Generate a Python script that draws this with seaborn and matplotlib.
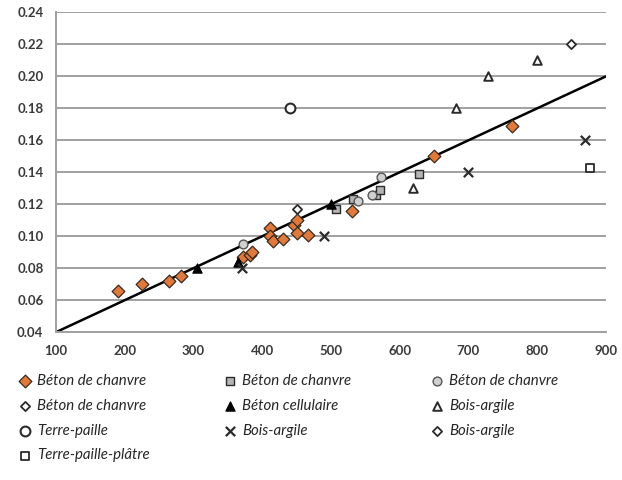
import matplotlib
matplotlib.use("Agg")
import matplotlib.pyplot as plt
import seaborn as sns
import pandas as pd

# ---- data ----
chanvre1_x = [190, 225, 265, 282, 372, 382, 385, 411, 412, 416, 431, 446, 451, 450, 467, 531, 650, 763]
chanvre1_y = [0.066, 0.070, 0.072, 0.075, 0.087, 0.088, 0.090, 0.105, 0.100, 0.097, 0.098, 0.107, 0.110, 0.102, 0.101, 0.116, 0.150, 0.169]
chanvre2_x = [507, 532, 565, 572, 628]
chanvre2_y = [0.117, 0.123, 0.126, 0.129, 0.139]
chanvre3_x = [372, 540, 560, 573]
chanvre3_y = [0.095, 0.122, 0.126, 0.137]
chanvre4_x = [450]
chanvre4_y = [0.117]
cellulaire_x = [305, 365, 500]
cellulaire_y = [0.080, 0.084, 0.120]
boisarg1_x = [620, 682, 728, 800]
boisarg1_y = [0.130, 0.180, 0.200, 0.210]
terrepaille_x = [440]
terrepaille_y = [0.180]
boisarg2_x = [370, 490, 700, 870]
boisarg2_y = [0.080, 0.100, 0.140, 0.160]
boisarg3_x = [850]
boisarg3_y = [0.220]
tpp_x = [877]
tpp_y = [0.143]
fit_x = [100, 900]
fit_y = [0.04, 0.20]

labels = ["Béton de chanvre", "Béton de chanvre", "Béton de chanvre", "Béton de chanvre",
          "Béton cellulaire", "Bois-argile", "Terre-paille", "Bois-argile", "Bois-argile",
          "Terre-paille-plâtre"]
x_ticks = [100, 200, 300, 400, 500, 600, 700, 800, 900]
y_ticks = [0.04, 0.06, 0.08, 0.10, 0.12, 0.14, 0.16, 0.18, 0.20, 0.22, 0.24]

sns.set_theme(style="white")
plt.rcParams["font.family"] = ["Lato", "DejaVu Sans"]

fig = plt.figure(figsize=(6.22, 4.80), dpi=100)
ax = fig.add_axes([0.090, 0.308, 0.884, 0.666])

for yv in y_ticks:
    ax.axhline(yv, color="#a0a0a0", lw=1.4, zorder=0)

sns.lineplot(x=fit_x, y=fit_y, ax=ax, color="black", lw=1.8, zorder=2)

dk = "#2b2b2b"
series = [
    (chanvre1_x, chanvre1_y, dict(marker="D", s=42, color="#e07a3c", edgecolor="#3a2a20", linewidth=0.9)),
    (chanvre2_x, chanvre2_y, dict(marker="s", s=40, color="#b5b5b5", edgecolor=dk, linewidth=1.0)),
    (chanvre3_x, chanvre3_y, dict(marker="o", s=40, color="#d0d0d0", edgecolor="#555555", linewidth=1.0)),
    (chanvre4_x, chanvre4_y, dict(marker="D", s=22, color="white", edgecolor=dk, linewidth=1.3)),
    (cellulaire_x, cellulaire_y, dict(marker="^", s=45, color="black", edgecolor="black", linewidth=0.8)),
    (boisarg1_x, boisarg1_y, dict(marker="^", s=38, color="white", edgecolor=dk, linewidth=1.4)),
    (terrepaille_x, terrepaille_y, dict(marker="o", s=50, color="white", edgecolor=dk, linewidth=1.5)),
    (boisarg2_x, boisarg2_y, dict(marker="x", s=45, color=dk, linewidth=1.6)),
    (boisarg3_x, boisarg3_y, dict(marker="D", s=22, color="white", edgecolor=dk, linewidth=1.3)),
    (tpp_x, tpp_y, dict(marker="s", s=40, color="white", edgecolor=dk, linewidth=1.3)),
]
for (xs, ys, kw), lab in zip(series, labels):
    sns.scatterplot(x=xs, y=ys, ax=ax, zorder=3, label=lab, **kw)
handles, labs = ax.get_legend_handles_labels()
ax.get_legend().remove()

ax.set_xlim(100, 900)
ax.set_ylim(0.04, 0.24)
ax.set_xticks(x_ticks)
ax.set_yticks(y_ticks)
ax.set_xticklabels([str(v) for v in x_ticks])
ax.set_yticklabels([f"{v:.2f}" for v in y_ticks])
for s in ["top", "right"]:
    ax.spines[s].set_visible(False)
for s in ["left", "bottom"]:
    ax.spines[s].set_color("#a0a0a0")
    ax.spines[s].set_linewidth(1.4)
ax.tick_params(axis="both", direction="out", length=4, width=1.2, color="#a0a0a0",
               labelsize=9.5, labelcolor="#3a3a3a", pad=5)
for t in ax.get_xticklabels() + ax.get_yticklabels():
    t.set_fontweight("bold")
ax.set_xlabel("")
ax.set_ylabel("")
ax.set_facecolor("white")

# legend: three columns placed separately
cols = [[0, 3, 6, 9], [1, 4, 7], [2, 5, 8]]
xpos = [0.020, 0.350, 0.682]
for idx, xp in zip(cols, xpos):
    fig.legend([handles[i] for i in idx], [labs[i] for i in idx],
               loc="upper left", bbox_to_anchor=(xp, 0.227), frameon=False,
               prop=dict(family=["Lato", "DejaVu Sans"], style="italic", size=10.8),
               handletextpad=0.15, labelspacing=0.72, handlelength=1.3,
               borderaxespad=0, borderpad=0.2)

fig.savefig("out.png", dpi=100, facecolor="white")
